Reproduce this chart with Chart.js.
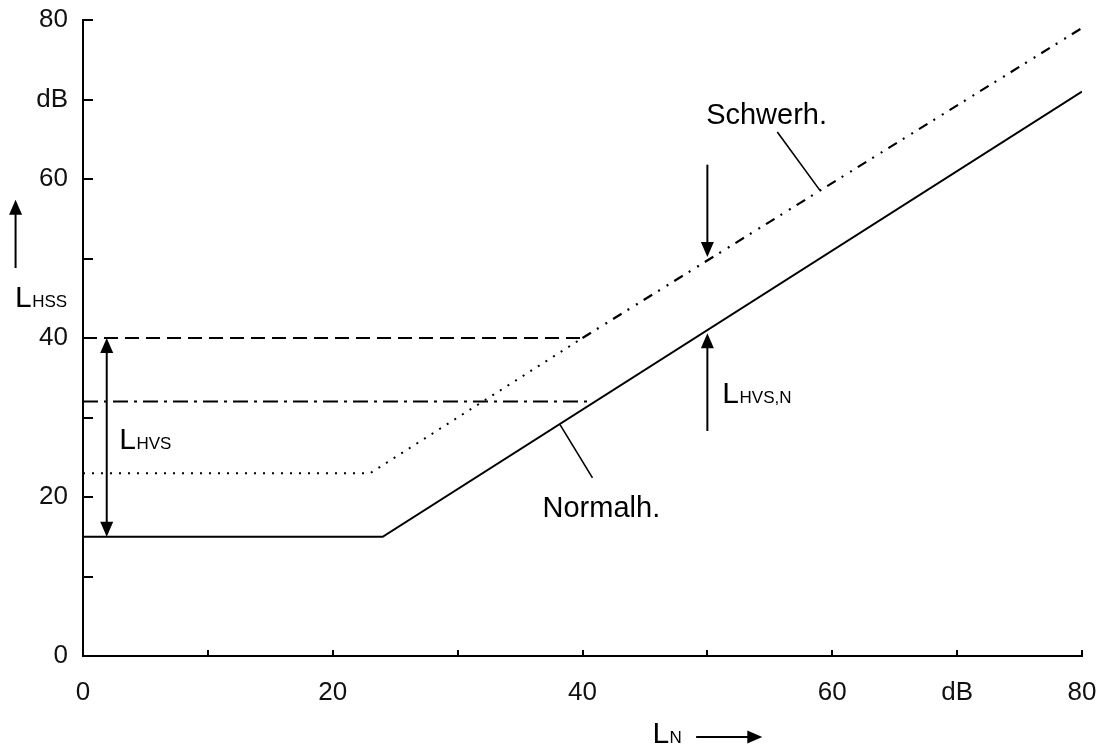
<!DOCTYPE html>
<html>
<head>
<meta charset="utf-8">
<script src="https://cdn.jsdelivr.net/npm/chart.js@4/dist/chart.umd.min.js"></script>
<style>
  html, body { margin: 0; padding: 0; background: #fff; }
  #wrap { width: 1103px; height: 747px; }
</style>
</head>
<body>
<div id="wrap"><canvas id="c" width="1103" height="747"></canvas></div>
<script>
// tick labels (one per 10 dB step, 0..80)
const xTickLabels = ["0", "", "20", "", "40", "", "60", "dB", "80"];
const yTickLabels = ["0", "", "20", "", "40", "", "60", "dB", "80"];

// Normalhörende
const normalX = [0, 24, 80];
const normalY = [15, 15, 71];

// Schwerhörige: dotted part, then dash-dot-dot part
const schwerDotX = [0, 23, 40];
const schwerDotY = [23, 23, 40];
const schwerDashX = [40, 80];
const schwerDashY = [40, 79];

// reference levels
const level40X = [0, 40];
const level40Y = [40, 40];
const level32X = [0, 40.5];
const level32Y = [32, 32];

function pts(xs, ys) {
  return xs.map((x, i) => ({ x: x, y: ys[i] }));
}

const FONT = "'Liberation Sans', Arial, sans-serif";

function arrowHead(ctx, x1, y1, x2, y2) {
  const a = Math.atan2(y2 - y1, x2 - x1);
  const len = 15, half = 6.5;
  ctx.beginPath();
  ctx.moveTo(x2, y2);
  ctx.lineTo(x2 - len * Math.cos(a) + half * Math.sin(a), y2 - len * Math.sin(a) - half * Math.cos(a));
  ctx.lineTo(x2 - len * Math.cos(a) - half * Math.sin(a), y2 - len * Math.sin(a) + half * Math.cos(a));
  ctx.closePath();
  ctx.fill();
}

function arrow(ctx, x1, y1, x2, y2, both) {
  const a = Math.atan2(y2 - y1, x2 - x1);
  ctx.beginPath();
  ctx.moveTo(both ? x1 + 12 * Math.cos(a) : x1, both ? y1 + 12 * Math.sin(a) : y1);
  ctx.lineTo(x2 - 12 * Math.cos(a), y2 - 12 * Math.sin(a));
  ctx.stroke();
  arrowHead(ctx, x1, y1, x2, y2);
  if (both) arrowHead(ctx, x2, y2, x1, y1);
}

function label(ctx, x, y, main, sub, size) {
  ctx.font = size + "px " + FONT;
  ctx.textBaseline = "alphabetic";
  ctx.textAlign = "left";
  ctx.fillText(main, x, y);
  if (sub) {
    const w = ctx.measureText(main).width;
    ctx.font = "17px " + FONT;
    ctx.fillText(sub, x + w + 0.5, y);
  }
}

const extras = {
  id: "extras",
  afterDraw(chart) {
    const ctx = chart.ctx;
    const xs = chart.scales.x, ys = chart.scales.y;
    const X = v => xs.getPixelForValue(v);
    const Y = v => ys.getPixelForValue(v);
    ctx.save();
    ctx.strokeStyle = "#000";
    ctx.fillStyle = "#000";

    // inward tick marks
    ctx.lineWidth = 2;
    xs.ticks.forEach(t => {
      const px = Math.round(X(t.value));
      ctx.beginPath();
      ctx.moveTo(px, Y(0));
      ctx.lineTo(px, Y(0) - 6);
      ctx.stroke();
    });
    ys.ticks.forEach(t => {
      const py = Math.round(Y(t.value));
      ctx.beginPath();
      ctx.moveTo(X(0), py);
      ctx.lineTo(X(0) + 10, py);
      ctx.stroke();
    });

    // arrows
    ctx.lineWidth = 2;
    arrow(ctx, X(1.9), Y(15), X(1.9), Y(40), true);
    arrow(ctx, X(50), Y(61.8), X(50), Y(50.2), false);
    arrow(ctx, X(50), Y(28.3), X(50), Y(40.6), false);
    arrow(ctx, X(-5.4), Y(48.8), X(-5.4), Y(57.4), false);
    arrow(ctx, X(49.1), Y(-10.2), X(54.4), Y(-10.2), false);

    // leader lines
    ctx.lineWidth = 1.6;
    ctx.beginPath();
    ctx.moveTo(X(55.6), Y(65.9));
    ctx.lineTo(X(59), Y(58.6));
    ctx.moveTo(X(38.2), Y(29.1));
    ctx.lineTo(X(40.8), Y(22.4));
    ctx.stroke();

    // texts
    label(ctx, X(2.9), Y(26.0), "L", "HVS", 30);
    label(ctx, X(51.2), Y(31.8), "L", "HVS,N", 30);
    label(ctx, X(-5.45), Y(43.9), "L", "HSS", 30);
    label(ctx, X(45.6), Y(-10.9), "L", "N", 30);
    label(ctx, X(49.9), Y(66.9), "Schwerh.", null, 29);
    label(ctx, X(36.8), Y(17.5), "Normalh.", null, 29);
    ctx.restore();
  }
};

const lineDs = (data, dash, width) => ({
  data: data,
  showLine: true,
  borderColor: "#000",
  borderWidth: width,
  borderDash: dash,
  pointRadius: 0,
  fill: false,
  tension: 0
});

function noPad(s) {
  s.paddingTop = 0;
  s.paddingBottom = 0;
  s.paddingLeft = 0;
  s.paddingRight = 0;
}

new Chart(document.getElementById("c"), {
  type: "scatter",
  data: {
    datasets: [
      lineDs(pts(normalX, normalY), [], 2),
      lineDs(pts(schwerDotX, schwerDotY), [2, 7], 2),
      lineDs(pts(schwerDashX, schwerDashY), [10, 7, 2, 8, 2, 7], 2.2),
      lineDs(pts(level40X, level40Y), [14, 7], 2),
      lineDs(pts(level32X, level32Y), [15, 6, 3, 6], 2)
    ]
  },
  options: {
    responsive: false,
    animation: false,
    devicePixelRatio: 1,
    layout: { padding: { left: 0, top: 20, right: 21, bottom: 0 } },
    plugins: {
      legend: { display: false },
      tooltip: { enabled: false }
    },
    scales: {
      x: {
        type: "linear",
        min: 0,
        max: 80,
        afterFit: s => { s.height = 91; noPad(s); },
        border: { display: true, color: "#000", width: 2 },
        grid: { drawOnChartArea: false, drawTicks: false },
        ticks: {
          stepSize: 10,
          autoSkip: false,
          maxRotation: 0,
          padding: 21,
          color: "#111",
          font: { family: FONT, size: 26 },
          callback: v => xTickLabels[Math.round(v / 10)]
        }
      },
      y: {
        type: "linear",
        min: 0,
        max: 80,
        afterFit: s => { s.width = 83; noPad(s); },
        border: { display: true, color: "#000", width: 2 },
        grid: { drawOnChartArea: false, drawTicks: false },
        ticks: {
          stepSize: 10,
          autoSkip: false,
          padding: 15,
          color: "#111",
          font: { family: FONT, size: 26 },
          callback: v => yTickLabels[Math.round(v / 10)]
        }
      }
    }
  },
  plugins: [extras]
});
</script>
</body>
</html>
